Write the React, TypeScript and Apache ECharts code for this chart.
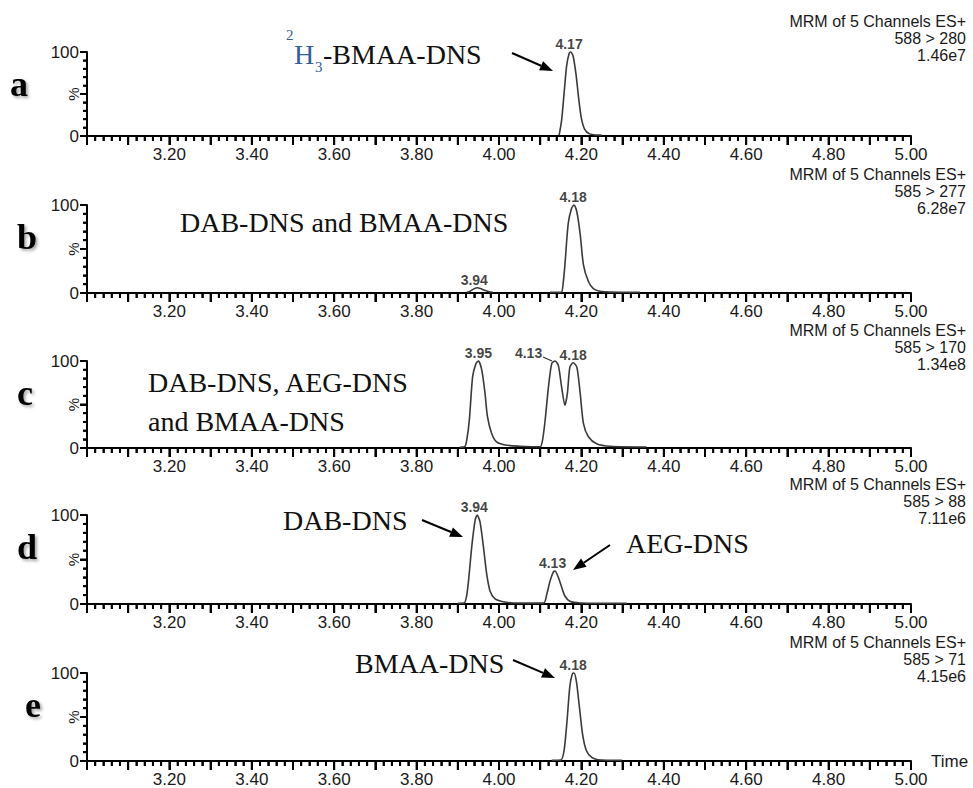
import React, { useEffect, useRef } from 'react';
import * as echarts from 'echarts';

// ---------- data ----------
const timeMin = 3.0;
const timeMax = 5.0;
const panelLetters = ['a', 'b', 'c', 'd', 'e'];
const channelLabels = ['588 > 280', '585 > 277', '585 > 170', '585 > 88', '585 > 71'];
const intensityLabels = ['1.46e7', '6.28e7', '1.34e8', '7.11e6', '4.15e6'];
const headerLabel = 'MRM of 5 Channels ES+';

// traces: [retention time (min), relative intensity (%)]
const traceA = [
  [4.146, 1], [4.152, 19], [4.158, 51], [4.164, 83], [4.170, 98], [4.174, 100], [4.180, 95],
  [4.187, 73], [4.194, 42], [4.200, 21], [4.208, 8], [4.220, 2.5], [4.235, 1.2], [4.249, 1],
];
const traceB1 = [
  [3.922, 0.8], [3.930, 2], [3.940, 5], [3.948, 6], [3.955, 5], [3.965, 3], [3.975, 1.5], [3.985, 0.8],
];
const traceB2 = [
  [4.124, 0.8], [4.145, 0.8], [4.152, 1], [4.156, 12], [4.160, 32], [4.168, 79], [4.176, 96],
  [4.182, 100], [4.189, 92], [4.197, 67], [4.205, 32], [4.217, 13], [4.229, 5], [4.245, 2],
  [4.270, 1], [4.342, 0.8],
];
const traceC = [
  [3.905, 0.8], [3.917, 1.5], [3.922, 10], [3.928, 32], [3.936, 82], [3.944, 97], [3.950, 100],
  [3.958, 90], [3.966, 63], [3.972, 36], [3.982, 17], [3.994, 7], [4.015, 3.5], [4.050, 2],
  [4.079, 1.5], [4.100, 1.5], [4.106, 10], [4.112, 32], [4.120, 70], [4.128, 97], [4.136, 100],
  [4.144, 95], [4.152, 70], [4.160, 49], [4.166, 63], [4.172, 93], [4.180, 98], [4.189, 93],
  [4.197, 63], [4.205, 28], [4.217, 13], [4.237, 5], [4.270, 2], [4.358, 1.2],
];
const traceD = [
  [3.900, 0.8], [3.915, 1], [3.921, 8], [3.926, 26], [3.934, 65], [3.942, 94], [3.947, 100],
  [3.954, 92], [3.962, 65], [3.970, 34], [3.978, 15], [3.990, 6], [4.010, 2.5], [4.035, 1.2],
  [4.108, 1], [4.116, 11], [4.124, 26], [4.132, 36], [4.136, 37], [4.144, 30], [4.152, 19],
  [4.160, 9], [4.172, 3], [4.197, 1.2], [4.310, 0.8],
];
const traceE = [
  [4.128, 0.8], [4.150, 1], [4.158, 12], [4.165, 45], [4.172, 85], [4.178, 99], [4.182, 100],
  [4.188, 90], [4.195, 62], [4.203, 30], [4.212, 12], [4.225, 4], [4.240, 1.5], [4.298, 0.8],
];
const tracesByPanel = [[traceA], [traceB1, traceB2], [traceC], [traceD], [traceE]];

// labelled peaks: [retention time, height %]
const peaksA = [[4.17, 100]];
const peaksB = [[3.94, 6], [4.18, 100]];
const peaksC = [[3.95, 100], [4.13, 100], [4.18, 98]];
const peaksD = [[3.94, 100], [4.13, 37]];
const peaksE = [[4.18, 100]];
const peaksByPanel = [peaksA, peaksB, peaksC, peaksD, peaksE];

// axis tick counts (x every 0.02 min, y every 10 %)
const xTickSteps = 100;
const yTickSteps = 10;

// ---------- layout ----------
const W = 973;
const H = 788;
const gridLeft = 87;
const gridWidth = 824;
const tops = [52, 205, 361, 515, 673];
const heights = [84, 88, 87, 89, 88];

const SANS = '"Liberation Sans", Arial, sans-serif';
const SERIF = '"Liberation Serif", "Times New Roman", serif';
const TXT = '#1a1a1a';

function arrow(x1: number, y1: number, x2: number, y2: number) {
  const ang = Math.atan2(y2 - y1, x2 - x1);
  const len = 13;
  const hw = 5;
  const bx = x2 - len * Math.cos(ang);
  const by = y2 - len * Math.sin(ang);
  const px = -Math.sin(ang) * hw;
  const py = Math.cos(ang) * hw;
  return [
    { type: 'line', shape: { x1, y1, x2: bx, y2: by }, style: { stroke: '#000', lineWidth: 2 } },
    {
      type: 'polygon',
      shape: { points: [[x2, y2], [bx + px, by + py], [bx - px, by - py]] },
      style: { fill: '#000' },
    },
  ];
}

function serifText(text: string, x: number, y: number, size = 28, fill = '#111') {
  return {
    type: 'text',
    x,
    y,
    style: { text, font: `${size}px ${SERIF}`, fill, align: 'left', verticalAlign: 'middle' },
  };
}

export default function App() {
  const ref = useRef<HTMLDivElement>(null);
  useEffect(() => {
    if (!ref.current) return;
    const chart = echarts.init(ref.current, undefined, { renderer: 'svg' });

    const grids: any[] = [];
    const xAxes: any[] = [];
    const yAxes: any[] = [];
    const series: any[] = [];
    const graphic: any[] = [];

    for (let i = 0; i < 5; i++) {
      grids.push({ left: gridLeft, width: gridWidth, top: tops[i], height: heights[i], containLabel: false });
      xAxes.push({
        type: 'value',
        gridIndex: i,
        position: 'bottom',
        min: timeMin,
        max: timeMax,
        interval: 0.1,
        axisLine: { show: true, onZero: false, lineStyle: { color: '#000', width: 2 } },
        axisTick: { show: true, length: 9, lineStyle: { color: '#000', width: 2 } },
        minorTick: { show: true, splitNumber: 5, length: 5, lineStyle: { color: '#000', width: 1.6 } },
        splitLine: { show: false },
        axisLabel: {
          show: true,
          margin: 10,
          color: TXT,
          fontFamily: SANS,
          fontSize: 17,
          formatter: (v: number) => {
            const r = Math.round(v * 100);
            if (r % 20 !== 0 || r === Math.round(timeMin * 100)) return '';
            return (r / 100).toFixed(2);
          },
        },
        name: i === 4 ? 'Time' : '',
        nameLocation: 'end',
        nameGap: 20,
        nameTextStyle: { color: TXT, fontFamily: SANS, fontSize: 17, verticalAlign: 'middle' },
      });
      yAxes.push({
        type: 'value',
        gridIndex: i,
        position: 'left',
        min: 0,
        max: 100,
        interval: 50,
        axisLine: { show: true, onZero: false, lineStyle: { color: '#000', width: 2 } },
        axisTick: { show: true, length: 7, lineStyle: { color: '#000', width: 2 } },
        minorTick: { show: true, splitNumber: 5, length: 4, lineStyle: { color: '#000', width: 1.6 } },
        splitLine: { show: false },
        axisLabel: {
          margin: 8,
          color: TXT,
          fontFamily: SANS,
          fontSize: 17,
          formatter: (v: number) => (v === 50 ? '' : String(v)),
        },
      });

      // tick combs drawn through the axis scales
      const xTicks: number[][] = [];
      for (let k = 0; k <= xTickSteps; k++) xTicks.push([timeMin + ((timeMax - timeMin) * k) / xTickSteps, k % 5 === 0 ? 9 : 5]);
      series.push({
        type: 'custom',
        xAxisIndex: i,
        yAxisIndex: i,
        silent: true,
        clip: false,
        z: 10,
        data: xTicks,
        encode: { x: 0 },
        renderItem: (params: any, api: any) => {
          const p = api.coord([api.value(0), 0]);
          const len = api.value(1);
          return {
            type: 'line',
            shape: { x1: p[0], y1: p[1], x2: p[0], y2: p[1] + len },
            style: { stroke: '#000', lineWidth: 2 },
          };
        },
      });
      const yTicks: number[][] = [];
      for (let k = 0; k <= yTickSteps; k++) yTicks.push([timeMin, (100 * k) / yTickSteps, k % 5 === 0 ? 7 : 4]);
      series.push({
        type: 'custom',
        xAxisIndex: i,
        yAxisIndex: i,
        silent: true,
        clip: false,
        z: 10,
        data: yTicks,
        encode: { x: 0, y: 1 },
        renderItem: (params: any, api: any) => {
          const p = api.coord([api.value(0), api.value(1)]);
          const len = api.value(2);
          return {
            type: 'line',
            shape: { x1: p[0], y1: p[1], x2: p[0] - len, y2: p[1] },
            style: { stroke: '#000', lineWidth: 2 },
          };
        },
      });

      tracesByPanel[i].forEach((seg) => {
        series.push({
          type: 'line',
          xAxisIndex: i,
          yAxisIndex: i,
          data: seg,
          symbol: 'none',
          smooth: 0.25,
          clip: false,
          lineStyle: { color: '#3a3a3a', width: 1.6 },
          silent: true,
        });
      });
      series.push({
        type: 'scatter',
        xAxisIndex: i,
        yAxisIndex: i,
        symbolSize: 0,
        silent: true,
        data: peaksByPanel[i].map((p) => {
          const item: any = { value: p };
          if (i === 2 && Math.abs(p[0] - 4.13) < 1e-6) item.label = { offset: [-24, 0] };
          return item;
        }),
        label: {
          show: true,
          position: 'top',
          distance: 1,
          color: '#111',
          fontFamily: SANS,
          fontWeight: 'bold',
          fontSize: 14,
          formatter: (p: any) => p.value[0].toFixed(2),
        },
      });

      // "%" axis title
      graphic.push({
        type: 'text',
        x: 73,
        y: tops[i] + heights[i] / 2,
        rotation: Math.PI / 2,
        style: { text: '%', font: `15px ${SANS}`, fill: TXT, align: 'center', verticalAlign: 'middle' },
      });

      // header text at the right
      const hdr = [headerLabel, channelLabels[i], intensityLabels[i]];
      hdr.forEach((t, k) => {
        graphic.push({
          type: 'text',
          x: 966,
          y: tops[i] - 31 + 17 * k,
          style: { text: t, font: `16px ${SANS}`, fill: TXT, align: 'right', verticalAlign: 'middle' },
        });
      });

      // panel letter
      const letterX = [10, 17, 17, 17, 25];
      graphic.push({
        type: 'text',
        x: letterX[i],
        y: tops[i] + 32,
        style: {
          text: panelLetters[i],
          font: `bold 36px ${SERIF}`,
          fill: '#000',
          align: 'left',
          verticalAlign: 'middle',
          textShadowColor: 'rgba(0,0,0,0.35)',
          textShadowBlur: 3,
          textShadowOffsetX: 2,
          textShadowOffsetY: 2,
        },
      });
    }

    // annotations
    const blue = '#34609a';
    graphic.push(serifText('2', 286, 35, 15, blue));
    graphic.push(serifText('H', 294, 54, 28, blue));
    graphic.push(serifText('3', 315, 67, 15, blue));
    graphic.push(serifText('-BMAA-DNS', 323, 54, 28));
    graphic.push(...arrow(512, 53, 553, 71));

    graphic.push(serifText('DAB-DNS and BMAA-DNS', 180, 222));

    graphic.push(serifText('DAB-DNS, AEG-DNS', 148, 382));
    graphic.push(serifText('and BMAA-DNS', 148, 421));
    graphic.push({
      type: 'line',
      shape: { x1: 543, y1: 357, x2: 552, y2: 361 },
      style: { stroke: '#333', lineWidth: 1.2 },
    });

    graphic.push(serifText('DAB-DNS', 283, 520));
    graphic.push(...arrow(422, 520, 463, 537));
    graphic.push(serifText('AEG-DNS', 626, 543));
    graphic.push(...arrow(610, 545, 573, 570));

    graphic.push(serifText('BMAA-DNS', 355, 663));
    graphic.push(...arrow(513, 660, 555, 678));

    chart.setOption({
      animation: false,
      backgroundColor: '#fff',
      grid: grids,
      xAxis: xAxes,
      yAxis: yAxes,
      series,
      graphic,
    });
    return () => chart.dispose();
  }, []);

  return (
    <div
      ref={ref}
      style={{ position: 'fixed', left: 0, top: 0, width: W, height: H, background: '#fff' }}
    />
  );
}
